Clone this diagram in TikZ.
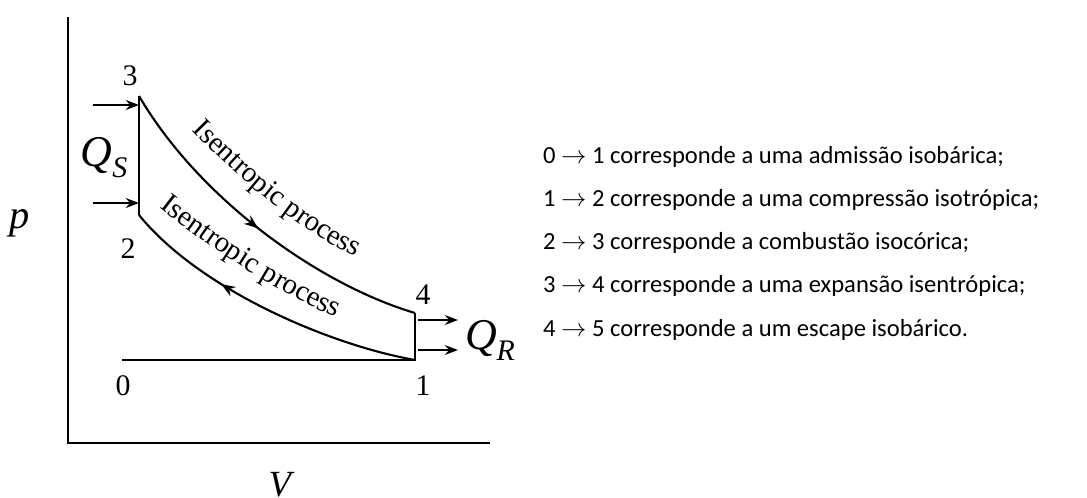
\documentclass[tikz,border=0pt]{standalone}
\usepackage{fontspec}
\setmainfont{Liberation Serif}
\newfontfamily\calib{Carlito}
\usetikzlibrary{arrows.meta,positioning,calc,decorations.markings,decorations.text}

\tikzset{
  cycleline/.style={line width=1.2pt},
  heatarrow/.style={->, line width=1pt},
  ptlabel/.style={font=\fontsize{17}{20}\selectfont},
  qlabel/.style={font=\fontsize{25}{28}\selectfont\itshape},
  midarrow/.style={postaction={decorate, decoration={markings,
      mark=at position #1 with {\arrow{Stealth[length=8pt,width=6pt]}}}}},
  proclabel/.style={decorate, decoration={text along path, text align=left,
      raise=3pt, text={|\fontsize{16.5}{18}\selectfont|#1}}},
  stepline/.style={anchor=west, font=\calib\fontsize{14}{17}\selectfont}
}

\begin{document}
\begin{tikzpicture}[>={Stealth[]}, x=0.02cm, y=-0.02cm]
\useasboundingbox (0,0) rectangle (1087,497);
% pixel grid of the reference, y downwards
\coordinate (orig) at (68,443);
\coordinate (ytop) at (68,17);
\coordinate (xend) at (490,443);
\draw[cycleline] (ytop) -- (orig) -- (xend);
\node[font=\fontsize{23}{26}\selectfont\itshape] (plab) at (20,223) {p};
\node[font=\fontsize{21}{24}\selectfont\itshape] (vlab) at (280,485) {V};
% states of the cycle
\coordinate (s0) at (122,360);
\coordinate (s1) at (415,360);
\coordinate (s2) at (139,215);
\coordinate (s3) at (139,96);
\coordinate (s4) at (415,313);
\draw[cycleline] (s0) -- (s1) -- (s4);
\draw[cycleline] (s2) -- (s3);
\draw[cycleline, midarrow=0.5] (s3) .. controls (200,200) and (320,285) .. (s4);
\draw[cycleline, midarrow=0.66] (s1) .. controls (330,345) and (200,290) .. (s2);
% labels run on their own, flatter baselines
\path[proclabel={Isentropic process}] (188,134) .. controls (233,180) and (300,240) .. (364,266);
\path[proclabel={Isentropic process}] (156,212) .. controls (198,245) and (275,300) .. (346,327);
\node[ptlabel] (n3) at (130,76) {3};
\node[ptlabel] (n2) at (128,249) {2};
\node[ptlabel] (n0) at (123,386) {0};
\node[ptlabel] (n1) at (423,386) {1};
\node[ptlabel] (n4) at (423,295) {4};
% heat in and out
\coordinate (qsa) at (93,105);
\coordinate (qsb) at (93,203);
\coordinate (qra) at (418,320);
\coordinate (qrb) at (418,350);
\draw[heatarrow] (qsa) -- (qsa -| s3);
\draw[heatarrow] (qsb) -- (qsb -| s2);
\draw[heatarrow] (qra) -- ++(40,0) coordinate (qrae);
\draw[heatarrow] (qrb) -- ++(40,0) coordinate (qrbe);
\node[qlabel] (qs) at (104,158) {Q\raisebox{-0.25em}{\fontsize{17}{20}\selectfont S}};
\node[qlabel] (qr) at (490,340) {Q\raisebox{-0.25em}{\fontsize{17}{20}\selectfont R}};
% list of the processes
\foreach \i/\y/\t in {0/157/{0 $\to$ 1 corresponde a uma admissão isobárica;},
    1/200/{1 $\to$ 2 corresponde a uma compressão isotrópica;},
    2/243/{2 $\to$ 3 corresponde a combustão isocórica;},
    3/286/{3 $\to$ 4 corresponde a uma expansão isentrópica;},
    4/330/{4 $\to$ 5 corresponde a um escape isobárico.}} {
  \node[stepline] (line\i) at (537,\y) {\t};
}
\end{tikzpicture}
\end{document}
